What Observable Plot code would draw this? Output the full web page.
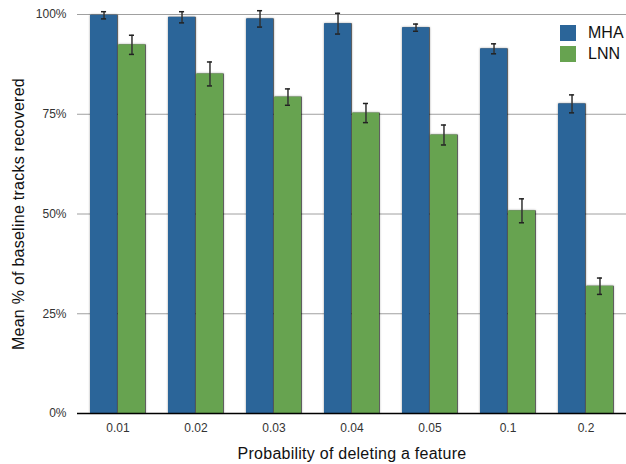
<!DOCTYPE html>
<html>
<head>
<meta charset="utf-8">
<script src="https://cdn.jsdelivr.net/npm/d3@7"></script>
<script src="https://cdn.jsdelivr.net/npm/@observablehq/plot@0.6"></script>
<style>
  body { margin: 0; background: #fff; }
  #wrap { position: relative; width: 626px; height: 464px; font-family: "Liberation Sans", Arial, Helvetica, sans-serif; }
  #legend { position: absolute; left: 560px; top: 25px; font-size: 16px; color: #111; }
  #legend .row { display: flex; align-items: center; height: 16px; margin-bottom: 5px; }
  #legend .sw { width: 16px; height: 16px; margin-right: 12px; }
</style>
</head>
<body>
<div id="wrap"><div id="legend"></div></div>
<script>
const groups = ["0.01", "0.02", "0.03", "0.04", "0.05", "0.1", "0.2"];
const seriesNames = ["MHA", "LNN"];
const seriesColors = ["#2b6599", "#67a350"];
const mha = [99.8, 99.3, 98.9, 97.7, 96.7, 91.4, 77.6];
const mhaErr = [0.9, 1.4, 2.05, 2.6, 0.9, 1.25, 2.25];
const lnn = [92.4, 85.1, 79.3, 75.3, 69.8, 50.8, 31.9];
const lnnErr = [2.4, 3.0, 2.05, 2.4, 2.5, 3.0, 2.05];
const yTicks = [0, 25, 50, 75, 100];
const xLabel = "Probability of deleting a feature";
const yLabel = "Mean % of baseline tracks recovered";

const rows = [];
groups.forEach((p, i) => {
  rows.push({p, series: "MHA", value: mha[i], err: mhaErr[i]});
  rows.push({p, series: "LNN", value: lnn[i], err: lnnErr[i]});
});
const mhaRows = rows.filter(d => d.series === "MHA");
const lnnRows = rows.filter(d => d.series === "LNN");

// layout
const W = 626, H = 464, mL = 77, mR = 0, mT = 14, mB = 51;
const padInner = 0.3, padOuter = 0.15;
const step = (W - mL - mR) / (groups.length - padInner + 2 * padOuter);
const bw = step * (1 - padInner);
const gap = 1;
const half = bw / 2 + gap / 2;
const off = (bw - gap) / 4 + gap / 2;
const capW = 5;
const capInset = (bw - capW) / 2;

const errMarks = (data, sign) => [
  Plot.ruleX(data, {x: "p", y1: d => d.value - d.err, y2: d => d.value + d.err, dx: sign * off, stroke: "#333", strokeWidth: 1.5}),
  Plot.tickY(data, {x: "p", y: d => d.value - d.err, dx: sign * off, insetLeft: capInset, insetRight: capInset, stroke: "#222", strokeWidth: 1.5}),
  Plot.tickY(data, {x: "p", y: d => d.value + d.err, dx: sign * off, insetLeft: capInset, insetRight: capInset, stroke: "#222", strokeWidth: 1.5})
];

const plot = Plot.plot({
  width: W, height: H,
  marginLeft: mL, marginRight: mR, marginTop: mT, marginBottom: mB,
  style: {fontFamily: '"Liberation Sans", Arial, Helvetica, sans-serif', fontSize: "12px", color: "#333", background: "#fff"},
  x: {type: "band", domain: groups, paddingInner: padInner, paddingOuter: padOuter, label: null},
  y: {domain: [0, 100], label: null},
  color: {domain: seriesNames, range: seriesColors},
  marks: [
    Plot.gridY(yTicks.filter(t => t > 0), {stroke: "#a0a0a0", strokeOpacity: 1, strokeWidth: 1}),
    Plot.barY(mhaRows, {x: "p", y: "value", fill: "series", insetRight: half}),
    Plot.barY(lnnRows, {x: "p", y: "value", fill: "series", insetLeft: half}),
    Plot.ruleY([0], {stroke: "#000", strokeWidth: 1.5}),
    ...errMarks(mhaRows, -1),
    ...errMarks(lnnRows, 1),
    Plot.axisY({ticks: yTicks, tickFormat: d => d + "%", tickSize: 0, tickPadding: 11, label: null}),
    Plot.axisX({tickSize: 0, tickPadding: 10, label: null}),
    Plot.text([xLabel], {text: d => d, frameAnchor: "bottom", dy: 40, fontSize: 16, fill: "#111", textAnchor: "middle", lineAnchor: "middle"}),
    Plot.text([yLabel], {text: d => d, frameAnchor: "left", dx: -59, rotate: -90, fontSize: 16, fill: "#111", textAnchor: "middle", lineAnchor: "middle"})
  ]
});

d3.select(plot).selectAll('g[aria-label="bar"]')
  .style("filter", "drop-shadow(1px 0px 0.6px rgba(0,0,0,0.55)) drop-shadow(0px 0px 1px rgba(0,0,0,0.35))");
d3.select(plot).selectAll('g[aria-label="text"]').style("letter-spacing", "0.25px");

const wrap = document.getElementById("wrap");
wrap.insertBefore(plot, wrap.firstChild);

const color = plot.scale("color");
const legend = d3.select("#legend");
color.domain.forEach((name, i) => {
  const row = legend.append("div").attr("class", "row");
  row.append("div").attr("class", "sw").style("background", color.range[i]);
  row.append("span").text(name);
});
</script>
</body>
</html>
